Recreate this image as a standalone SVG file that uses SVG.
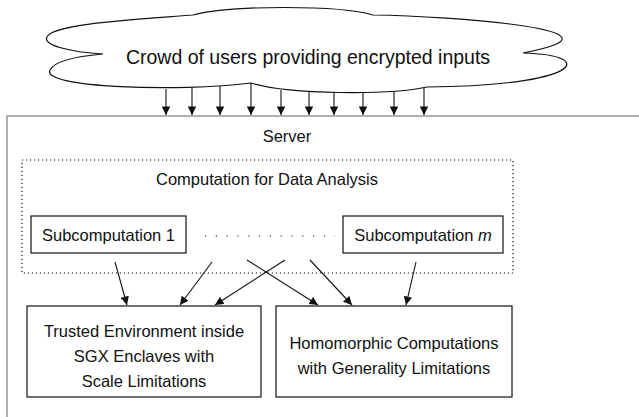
<svg xmlns="http://www.w3.org/2000/svg" width="639" height="417" viewBox="0 0 639 417">
<style>
text{font-family:"Liberation Sans",Arial,sans-serif;font-size:16.5px;fill:#111;text-anchor:middle}
.box{fill:#fff;stroke:#111;stroke-width:1.2}
.con{stroke:#111;stroke-width:1.1;fill:none;marker-end:url(#ah)}
</style>
<defs>
<marker id="ah" viewBox="0 0 10 10" refX="10" refY="5" markerWidth="9" markerHeight="8.5" markerUnits="userSpaceOnUse" orient="auto">
<path d="M0,0 L10,5 L0,10 Z" fill="#111"/>
</marker>
</defs>
<rect width="639" height="417" fill="#fff"/>
<g id="server">
<rect x="7" y="116" width="700" height="400" fill="none" stroke="#a8a8a8" stroke-width="1.8"/>
<text x="287" y="142">Server</text>
</g>
<g id="computation">
<rect x="22" y="160" width="491" height="113" fill="none" stroke="#111" stroke-width="1.2" stroke-dasharray="1.2 2.8"/>
<text x="267" y="185">Computation for Data Analysis</text>
</g>
<g id="sub1">
<rect class="box" x="31" y="216" width="155" height="37"/>
<text x="108.5" y="241">Subcomputation 1</text>
</g>
<g id="dots">
<line x1="205" y1="236" x2="335" y2="236" stroke="#111" stroke-width="1.2" stroke-dasharray="1.2 9.6"/>
</g>
<g id="subm">
<rect class="box" x="343" y="216" width="160" height="37"/>
<text x="423" y="241">Subcomputation <tspan font-style="italic">m</tspan></text>
</g>
<g id="sgx">
<rect class="box" x="27" y="306" width="234" height="91"/>
<text x="144" y="337">Trusted Environment inside</text>
<text x="144" y="362">SGX Enclaves with</text>
<text x="144" y="387">Scale Limitations</text>
</g>
<g id="he">
<rect class="box" x="276" y="306" width="236" height="91"/>
<text x="394" y="349">Homomorphic Computations</text>
<text x="394" y="374">with Generality Limitations</text>
</g>
<g id="crowd">
<path d="M193 15 C230 5,340 5,373 15 C450 16,645 30,523 53 C600 55,580 86,427 87 C390 95,290 95,251 83 C180 92,40 88,50 70 C55 60,80 56,103 54 C70 52,42 45,47 37 C52 24,130 20,193 15 Z" fill="#fff" stroke="#111" stroke-width="1.2"/>
<text x="308" y="64" style="font-size:19.5px">Crowd of users providing encrypted inputs</text>
</g>
<g id="connectors">
<line class="con" x1="166" y1="89" x2="166" y2="115"/>
<line class="con" x1="192" y1="88" x2="192" y2="115"/>
<line class="con" x1="220" y1="86" x2="220" y2="115"/>
<line class="con" x1="251" y1="83" x2="251" y2="115"/>
<line class="con" x1="281" y1="90" x2="281" y2="115"/>
<line class="con" x1="309" y1="92" x2="309" y2="115"/>
<line class="con" x1="334" y1="93" x2="334" y2="115"/>
<line class="con" x1="363" y1="93" x2="363" y2="115"/>
<line class="con" x1="394" y1="91" x2="394" y2="115"/>
<line class="con" x1="424" y1="88" x2="424" y2="115"/>
<line class="con" x1="115" y1="262" x2="127" y2="305"/>
<line class="con" x1="212" y1="262" x2="180" y2="305"/>
<line class="con" x1="285" y1="260" x2="215" y2="305"/>
<line class="con" x1="247" y1="260" x2="318" y2="305"/>
<line class="con" x1="310" y1="260" x2="352" y2="305"/>
<line class="con" x1="416" y1="262" x2="406" y2="305"/>
</g>
</svg>
